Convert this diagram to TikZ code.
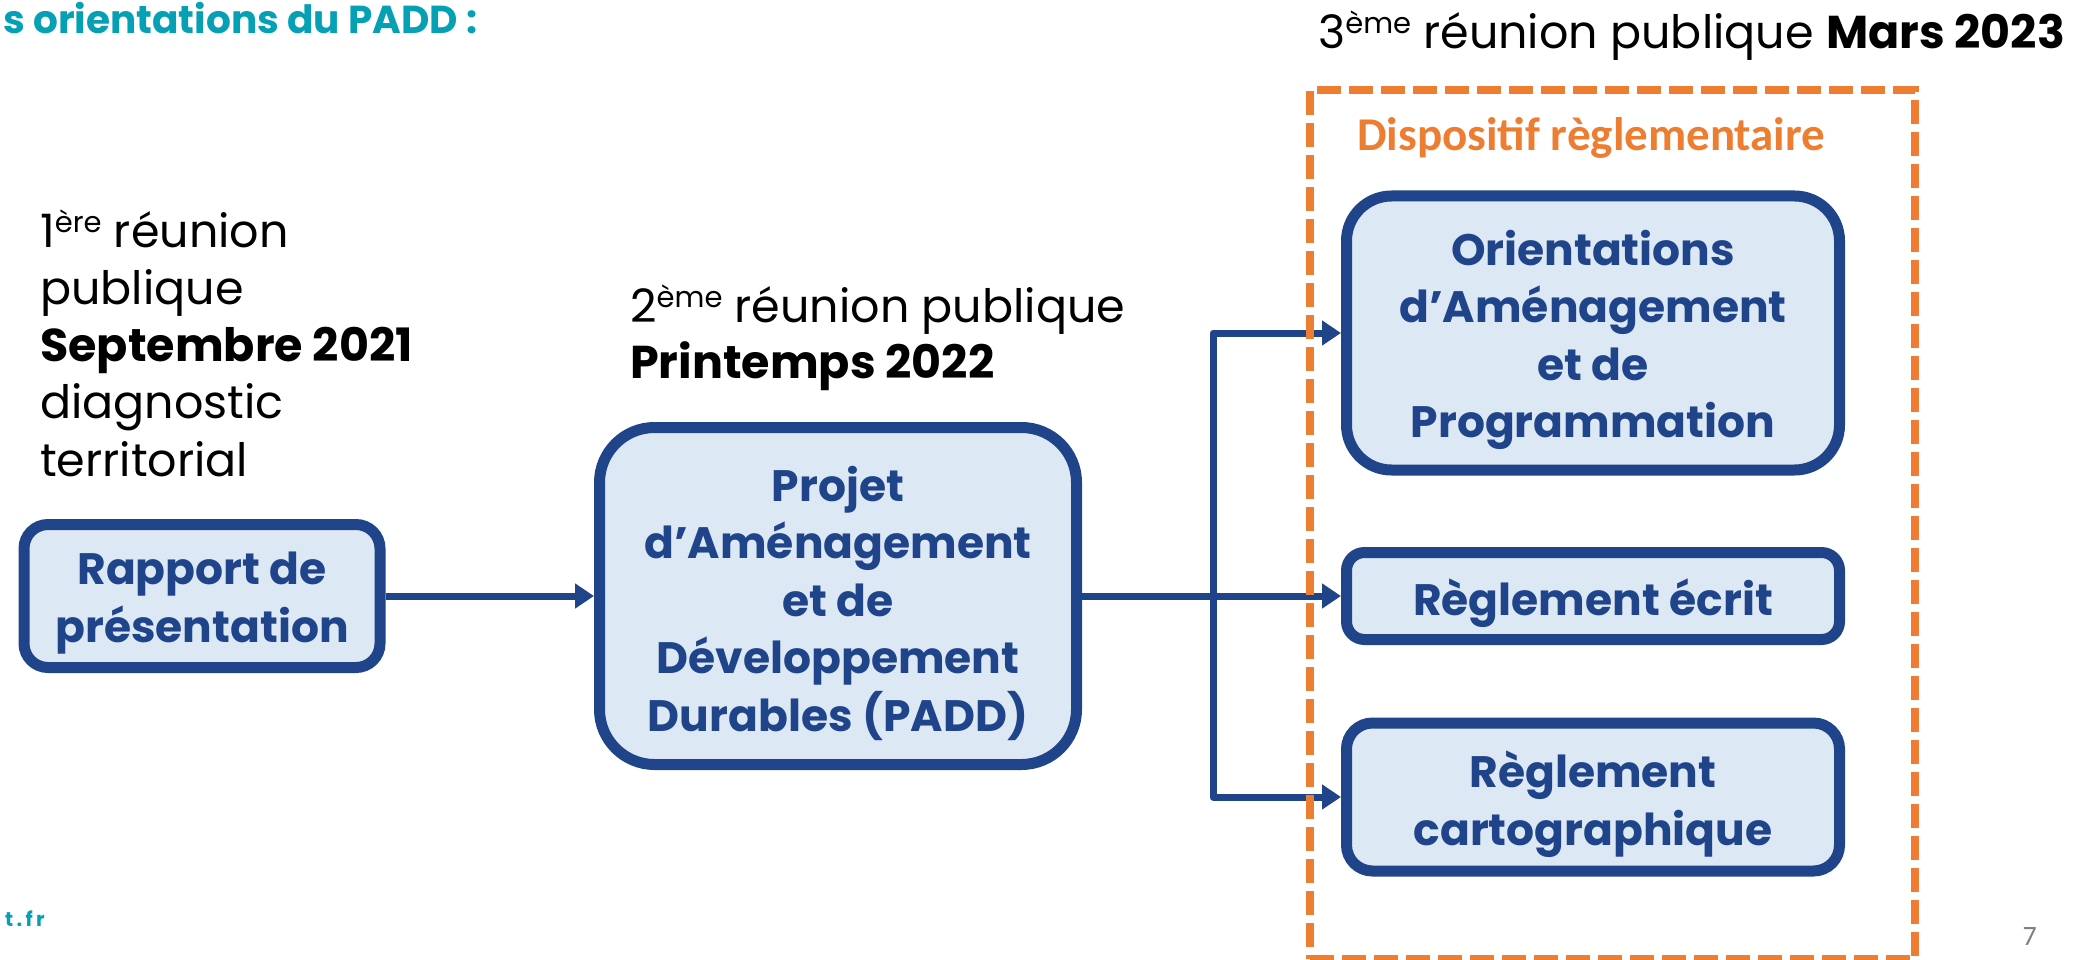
\documentclass[tikz,border=0pt]{standalone}
\usepackage{fontspec}
\setmainfont{Poppins}
\newfontfamily\calfont{Carlito}
\usetikzlibrary{arrows.meta}
\definecolor{dblue}{HTML}{1F4489}
\definecolor{lblue}{HTML}{DDE8F5}
\definecolor{orng}{HTML}{ED7D31}
\definecolor{tealc}{HTML}{06A0B4}
\definecolor{gry}{HTML}{7F7F7F}
\newcommand\supx[1]{\raisebox{15pt}{\fontsize{29}{29}\selectfont #1}}
\begin{document}
\begin{tikzpicture}[x=1pt,y=-1pt,
  box/.style={draw=dblue, fill=lblue, line width=11pt, inner sep=0pt},
  boxtext/.style={text=dblue, font=\bfseries\fontsize{44}{57.5}\selectfont, align=center, inner sep=0pt, yshift=-7pt},
  conn/.style={draw=dblue, line width=7pt, line join=round},
  arr/.style={conn, -{Triangle[length=19pt,width=24pt]}},
  txt/.style={font=\fontsize{46}{57.5}\selectfont, anchor=base west, inner sep=0pt, text=black},
  grpbox/.style={draw=orng, line width=8pt, dash pattern=on 24pt off 8pt, inner sep=0pt, anchor=north west},
]
\useasboundingbox (0,0) rectangle (2095,960);
\clip (0,0) rectangle (2095,960);

% title and footer
\node[anchor=base west, inner sep=0pt, text=tealc, font=\bfseries\fontsize{39}{46}\selectfont] (title) at (3,34) {s orientations du PADD :};
\node[anchor=base west, inner sep=0pt, text=tealc, font=\bfseries\fontsize{20}{24}\selectfont] (site) at (5,926) {t\,.\,f\,r};
\node[anchor=base east, inner sep=0pt, text=gry, font=\calfont\fontsize{28}{32}\selectfont] (page) at (2037,945) {7};

% left texts
\node[txt] (l1) at (40,247) {1\supx{ère} réunion};
\node[txt] (l2) at (40,304) {publique};
\node[txt, font=\bfseries\fontsize{46}{57.5}\selectfont] (l3) at (40,361) {Septembre 2021};
\node[txt] (l4) at (40,418) {diagnostic};
\node[txt] (l5) at (40,476) {territorial};

\node[txt] (m1) at (630,322) {2\supx{ème} réunion publique};
\node[txt, font=\bfseries\fontsize{46}{57.5}\selectfont] (m2) at (630,378) {Printemps 2022};

\node[txt] (r1) at (1318,49) {3\supx{ème} réunion publique \textbf{Mars 2023}};

% boxes
\node[box, minimum width=356pt, minimum height=143pt, rounded corners=24pt] (rapport) at (202,596) {};
\node[box, minimum width=477pt, minimum height=337pt, rounded corners=55pt] (padd) at (838,596) {};
\node[box, minimum width=493pt, minimum height=274pt, rounded corners=45pt] (oap) at (1593,333) {};
\node[box, minimum width=493pt, minimum height=87pt, rounded corners=18pt] (ecrit) at (1593,596) {};
\node[box, minimum width=493pt, minimum height=148pt, rounded corners=26pt] (carto) at (1593,797) {};

\node[boxtext] (rapport-t) at (rapport.center) {Rapport de\\présentation};
\node[boxtext] (padd-t) at (padd.center) {Projet\\d’Aménagement\\et de\\Développement\\Durables (PADD)};
\node[boxtext] (oap-t) at (oap.center) {Orientations\\d’Aménagement\\et de\\Programmation};
\node[boxtext] (ecrit-t) at (ecrit.center) {Règlement écrit};
\node[boxtext] (carto-t) at (carto.center) {Règlement\\cartographique};

% connectors
\coordinate (j) at (1213,596);
\draw[arr] (rapport.east) -- (padd.west);
\draw[arr] (padd.east) -- (ecrit.west);
\draw[arr] (j) |- (oap.west);
\draw[arr] (j) |- (carto.west);

% dashed group
\node[grpbox, minimum width=605pt, minimum height=869pt] (grp) at (1306,86) {};
\node[anchor=base west, inner sep=0pt, text=orng, font=\calfont\bfseries\fontsize{47}{52}\selectfont] (grptitle) at (1357,151) {Dispositif règlementaire};
\end{tikzpicture}
\end{document}
